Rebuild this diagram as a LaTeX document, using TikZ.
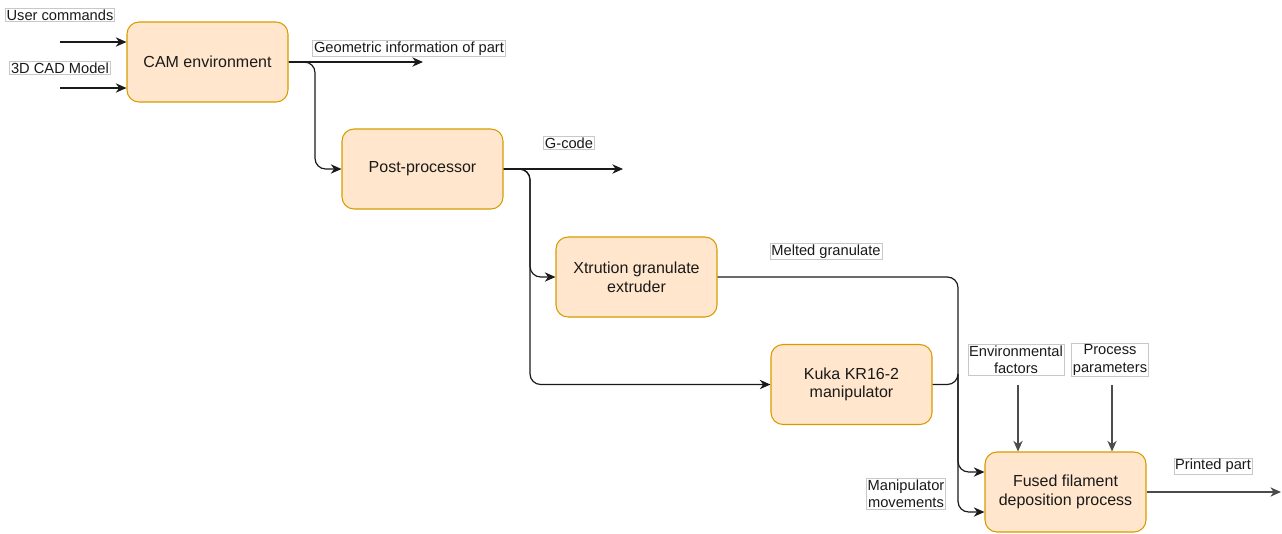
\documentclass[tikz,border=0pt]{standalone}
\usepackage{fontspec}
\setmainfont{Liberation Sans}
\usetikzlibrary{arrows.meta}
\definecolor{boxfill}{HTML}{FFE6CC}
\definecolor{boxline}{HTML}{D79B00}
\definecolor{txt}{HTML}{1A1A1A}
\definecolor{lblline}{HTML}{C8C8C8}
\tikzset{
  procbox/.style={draw=boxline, fill=boxfill, line width=0.8pt, rounded corners=9pt,
    minimum width=161*0.75pt, minimum height=80*0.75pt, align=center,
    text=txt, font=\fontsize{12}{14}\selectfont, inner sep=0pt},
  lbl/.style={draw=lblline, fill=white, line width=0.4pt, inner sep=1pt, align=center,
    text=txt, font=\fontsize{11}{13}\selectfont},
  arr/.style={draw=txt, line width=0.9pt, -{Stealth[length=8pt,width=7pt,inset=2.5pt]}},
  garr/.style={arr, draw=black!70}
}
\begin{document}
\begin{tikzpicture}[x=0.75pt,y=-0.75pt]
\useasboundingbox (0,0) rectangle (1282,533);
% boxes
\node[procbox] (cam) at (207.5,62) {CAM environment};
\node[procbox] (post) at (422.5,169) {Post-processor};
\node[procbox] (xtr) at (636.5,277) {Xtrution granulate\\extruder};
\node[procbox] (kuka) at (851.5,384.5) {Kuka KR16-2\\manipulator};
\node[procbox] (ffd) at (1065.5,492) {Fused filament\\deposition process};
% labels
\node[lbl] (user) at (60,15) {User commands};
\node[lbl] (cad) at (60,68) {3D CAD Model};
\node[lbl] (geo) at (409,48.5) {Geometric information of part};
\node[lbl] (gcode) at (569,143) {G-code};
\node[lbl] (melt) at (826,251.5) {Melted granulate};
\node[lbl] (env) at (1016,360) {Environmental\\factors};
\node[lbl] (par) at (1110,360) {Process\\parameters};
\node[lbl] (manip) at (906,494) {Manipulator\\movements};
\node[lbl] (print) at (1213,466) {Printed part};
% free ends
\coordinate (uin) at (60,42);
\coordinate (cin) at (60,88);
\coordinate (geoend) at (423,62);
\coordinate (gend) at (623,169);
\coordinate (pend) at (1281,492);
\coordinate (envs) at (1018,385);
\coordinate (pars) at (1112,385);
\coordinate (b1) at (315,62);
\coordinate (b2) at (530,169);
\coordinate (b3) at (958,277);
% connectors
\draw[arr] (uin) -- (uin -| cam.west);
\draw[arr] (cin) -- (cin -| cam.west);
\draw[arr] (cam.east) -- (geoend);
\draw[arr, rounded corners=8pt] (cam.east) -- (b1) |- (post.west);
\draw[arr] (post.east) -- (gend);
\draw[arr, rounded corners=8pt] (post.east) -- (b2) |- (xtr.west);
\draw[arr, rounded corners=8pt] (post.east) -- (b2) |- (kuka.west);
\draw[arr, rounded corners=8pt] (xtr.east) -- (b3) |- ([yshift=15pt]ffd.west);
\draw[arr, rounded corners=8pt] (kuka.east) -| (b3 |- kuka.east) |- ([yshift=-15pt]ffd.west);
\draw[garr] (envs) -- (envs |- ffd.north);
\draw[garr] (pars) -- (pars |- ffd.north);
\draw[garr] (ffd.east) -- (pend);
\end{tikzpicture}
\end{document}
